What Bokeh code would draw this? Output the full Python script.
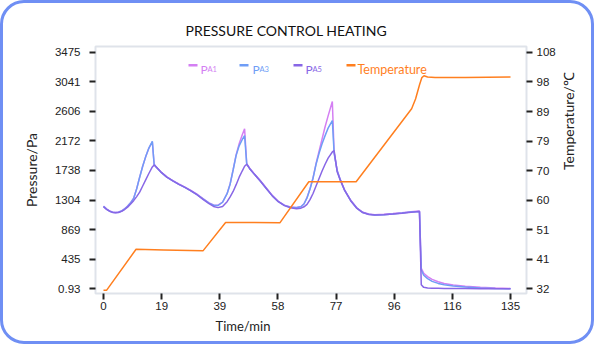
import math
from bokeh.plotting import figure
from bokeh.models import Range1d, LinearAxis, FixedTicker, Label, BoxAnnotation, ColumnDataSource, Title
from bokeh.embed import file_html
from bokeh.resources import INLINE

# ---------------- data ----------------
time_min = [0, 1, 2, 3, 4, 5, 6, 7, 8, 9,
            10, 11, 12, 13, 14, 15, 16.2, 16.8, 17.5, 19,
            21, 23, 25, 27, 29, 31, 33, 35, 36.5, 38,
            39.5, 41, 42, 43, 44, 45, 46, 46.8, 47.5, 48.5,
            50, 52, 54, 56, 58, 60, 62, 64, 65.5, 66.5,
            67.5, 68.5, 69.5, 70.5, 71.5, 72.5, 73.5, 74.5, 75.9, 76.5,
            77.5, 78.5, 80, 82, 84, 86, 88, 90, 93, 96,
            99, 102, 104.8, 105.4, 106.2, 107.5, 109, 111, 113, 116,
            120, 125, 130, 135]

pa1 = [1215, 1175, 1145, 1128, 1122, 1128, 1145, 1175, 1215, 1265,
       1330, 1470, 1640, 1800, 1940, 2060, 2160, 1830, 1790, 1720,
       1645, 1590, 1540, 1495, 1445, 1390, 1325, 1262, 1232, 1228,
       1275, 1400, 1540, 1750, 1970, 2130, 2260, 2350, 1840, 1770,
       1690, 1590, 1480, 1370, 1285, 1230, 1202, 1195, 1210, 1250,
       1340, 1470, 1630, 1840, 2020, 2200, 2380, 2540, 2750, 2000,
       1740, 1610, 1450, 1300, 1190, 1125, 1098, 1090, 1095, 1105,
       1118, 1132, 1142, 300, 230, 180, 140, 105, 80, 58,
       38, 22, 12, 6]

pa3 = [1212, 1172, 1142, 1125, 1120, 1126, 1143, 1173, 1213, 1263,
       1328, 1468, 1638, 1800, 1942, 2062, 2165, 1825, 1785, 1715,
       1640, 1585, 1535, 1490, 1440, 1385, 1320, 1258, 1228, 1224,
       1272, 1398, 1538, 1745, 1960, 2100, 2190, 2251, 1835, 1765,
       1685, 1585, 1475, 1365, 1280, 1226, 1198, 1191, 1206, 1246,
       1335, 1465, 1625, 1830, 1990, 2130, 2250, 2360, 2471, 1990,
       1735, 1605, 1445, 1295, 1186, 1120, 1094, 1086, 1090, 1100,
       1113, 1127, 1137, 280, 200, 150, 110, 80, 60, 42,
       26, 14, 7, 3]

pa5 = [1205, 1168, 1140, 1123, 1118, 1122, 1138, 1165, 1200, 1245,
       1295, 1355, 1420, 1510, 1600, 1690, 1790, 1818, 1790, 1718,
       1640, 1585, 1535, 1490, 1440, 1382, 1315, 1250, 1210, 1193,
       1210, 1280, 1350, 1430, 1530, 1640, 1730, 1800, 1830, 1765,
       1685, 1585, 1475, 1365, 1280, 1222, 1190, 1178, 1185, 1205,
       1240, 1310, 1400, 1510, 1620, 1730, 1830, 1920, 2010, 2030,
       1720, 1600, 1445, 1295, 1185, 1120, 1093, 1085, 1089, 1099,
       1112, 1126, 1136, 60, 22, 14, 10, 8, 6, 5,
       4, 3, 2, 2]

temp_time = [0, 1, 10.8, 20, 33, 40.5, 50, 58.5, 68.1, 75,
             83.8, 102.2, 103.5, 104.8, 105.6, 106.3, 107.5, 110, 120, 135]
temperature = [31.5, 31.5, 44.7, 44.5, 44.2, 53.3, 53.3, 53.2, 66.4, 66.4,
               66.4, 89.9, 93.0, 97.5, 99.9, 100.5, 100.1, 99.9, 99.9, 100.1]

x_tick_values = [0, 19.29, 38.57, 57.86, 77.14, 96.43, 115.71, 135]
x_tick_labels = ["0", "19", "39", "58", "77", "96", "116", "135"]
p_tick_values = [0.93, 435.19, 869.45, 1303.7, 1737.97, 2172.2, 2606.5, 3040.74, 3475]
p_tick_labels = ["0.93", "435", "869", "1304", "1738", "2172", "2606", "3041", "3475"]
t_tick_values = [32, 41.5, 51, 60.5, 70, 79.5, 89, 98.5, 108]
t_tick_labels = ["32", "41", "51", "60", "70", "79", "89", "98", "108"]

series_names = ["A1", "A3", "A5"]
title_text = "PRESSURE CONTROL HEATING"

# ---------------- style ----------------
C_PA1 = "#d47ff3"
C_PA3 = "#6f9df6"
C_PA5 = "#8866e6"
C_TEMP = "#ff7f1f"
BORDER = "#6f8ff4"
FRAME = "#dfe3ea"
TICK_FONT = "Liberation Sans"
TEXT_FONT = "Lato"

p = figure(width=594, height=344,
           x_range=Range1d(-2.65, 140.3), y_range=Range1d(-68.1, 3558.7),
           output_backend="svg", toolbar_location=None,
           min_border_left=92, min_border_right=71,
           min_border_top=43, min_border_bottom=54)
p.styles = {"border": "3px solid " + BORDER, "border-radius": "24px", "overflow": "hidden"}
p.border_fill_color = None
p.background_fill_color = "white"
p.outline_line_color = FRAME
p.outline_line_width = 2
p.xgrid.visible = False
p.ygrid.visible = False

p.title.text = title_text
p.title.align = "left"
p.title.offset = 90
p.title.standoff = 16
p.title.text_font = TEXT_FONT
p.title.text_font_size = "14px"
p.title.text_font_style = "normal"
p.title.text_color = "#111111"

p.extra_y_ranges = {"temp": Range1d(30.49, 109.9)}
raxis = LinearAxis(y_range_name="temp")
p.add_layout(raxis, "right")

for ax in [p.xaxis[0], p.yaxis[0], raxis]:
    ax.axis_line_color = None
    ax.major_tick_line_color = "#222222"
    ax.major_tick_line_width = 2
    ax.major_tick_in = 0
    ax.major_tick_out = 6
    ax.minor_tick_line_color = None
    ax.major_label_text_font = TICK_FONT
    ax.major_label_text_font_size = "11.5px"
    ax.major_label_text_color = "#222222"
    ax.axis_label_text_font = TEXT_FONT
    ax.axis_label_text_font_size = "14px"
    ax.axis_label_text_font_style = "normal"
    ax.axis_label_text_color = "#222222"

p.xaxis.ticker = FixedTicker(ticks=x_tick_values)
p.xaxis.major_label_overrides = dict(zip(x_tick_values, x_tick_labels))
p.xaxis.major_label_standoff = 2

xlabel = Title(text="Time/min", align="left", offset=120, standoff=7,
               text_font=TEXT_FONT, text_font_size="13px", text_font_style="normal",
               text_color="#222222")
p.add_layout(xlabel, "below")

p.yaxis[0].ticker = FixedTicker(ticks=p_tick_values)
p.yaxis[0].major_label_overrides = dict(zip(p_tick_values, p_tick_labels))
p.yaxis[0].major_label_standoff = 9
p.yaxis[0].axis_label = "Pressure/Pa"
p.yaxis[0].axis_label_standoff = 12

raxis.ticker = FixedTicker(ticks=t_tick_values)
raxis.major_label_overrides = dict(zip(t_tick_values, t_tick_labels))
raxis.major_label_standoff = 4
raxis.axis_label = "Temperature/\u2103"
raxis.axis_label_standoff = 10
raxis.axis_label_orientation = math.pi / 2

src = ColumnDataSource(dict(t=time_min, a1=pa1, a3=pa3, a5=pa5))
p.line("t", "a1", source=src, color=C_PA1, line_width=1.5)
p.line("t", "a3", source=src, color=C_PA3, line_width=1.5)
p.line("t", "a5", source=src, color=C_PA5, line_width=1.5)
tsrc = ColumnDataSource(dict(t=temp_time, temp=temperature))
p.line("t", "temp", source=tsrc, color=C_TEMP, line_width=1.5, y_range_name="temp")

# legend (screen units relative to the frame)
legend_items = [
    (93, 105, 112, C_PA1, series_names[0]),
    (144, 157, 164, C_PA3, series_names[1]),
    (198, 210, 217, C_PA5, series_names[2]),
]
for icon_x, p_x, sub_x, col, sub in legend_items:
    p.add_layout(BoxAnnotation(left=icon_x, right=icon_x + 9, bottom=227, top=229.5,
                               left_units="screen", right_units="screen",
                               top_units="screen", bottom_units="screen",
                               fill_color=col, fill_alpha=1, line_alpha=0))
    p.add_layout(Label(x=p_x, y=224, x_units="screen", y_units="screen", text="P",
                       text_font=TEXT_FONT, text_font_size="12px", text_color=col,
                       text_baseline="alphabetic"))
    p.add_layout(Label(x=sub_x, y=224, x_units="screen", y_units="screen", text=sub,
                       text_font=TEXT_FONT, text_font_size="7.5px", text_color=col,
                       text_baseline="alphabetic"))
p.add_layout(BoxAnnotation(left=251, right=260, bottom=227, top=229.5,
                           left_units="screen", right_units="screen",
                           top_units="screen", bottom_units="screen",
                           fill_color=C_TEMP, fill_alpha=1, line_alpha=0))
p.add_layout(Label(x=262, y=224, x_units="screen", y_units="screen", text="Temperature",
                   text_font=TEXT_FONT, text_font_size="12.5px", text_color=C_TEMP,
                   text_baseline="alphabetic"))

open("out.html", "w").write(file_html(p, INLINE))
